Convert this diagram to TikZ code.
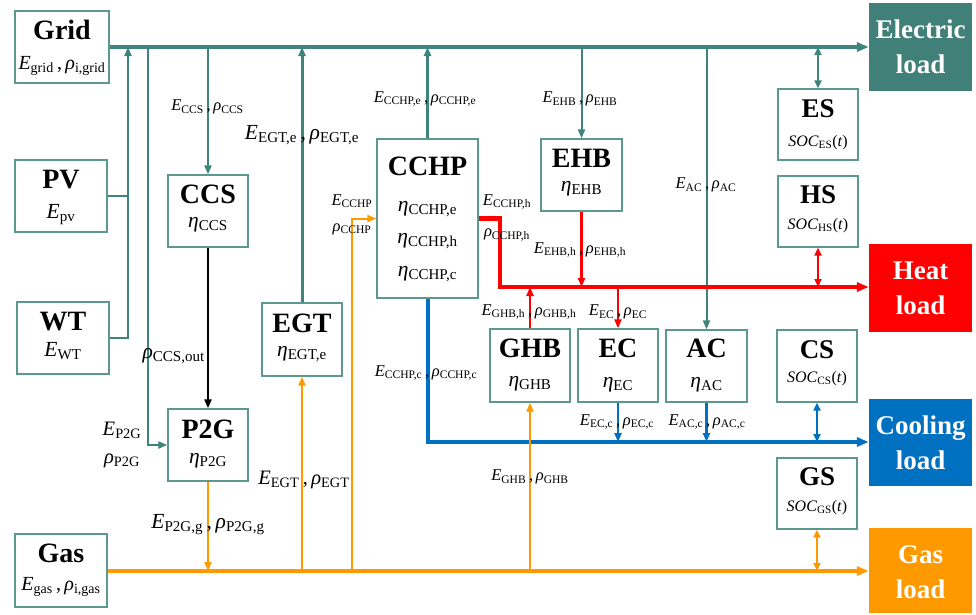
\documentclass[tikz,border=0pt]{standalone}
\usepackage{fontspec}
\setmainfont{Liberation Serif}
\usetikzlibrary{arrows.meta}
\definecolor{tl}{RGB}{62,132,124}
\definecolor{tlb}{RGB}{92,152,144}
\definecolor{tlf}{RGB}{64,128,120}
\definecolor{rd}{RGB}{255,0,0}
\definecolor{bl}{RGB}{0,112,192}
\definecolor{og}{RGB}{255,153,0}
\newcommand\Ev[1]{\textit{E}\textsubscript{#1}}
\newcommand\Rv[1]{\textit{ρ}\textsubscript{#1}}
\newcommand\Hv[1]{\textit{η}\textsubscript{#1}}
\newcommand\ER[2]{\Ev{#1}\,,\,\Rv{#2}}
\newcommand\SOC[1]{\textit{SOC}\textsubscript{#1}(\textit{t})}
\tikzset{
  bx/.style={draw=tlb, line width=1.3pt, inner sep=0pt},
  ttl/.style={font=\fontsize{28}{30}\selectfont\bfseries, inner sep=0pt, anchor=base},
  sttl/.style={font=\fontsize{27}{29}\selectfont\bfseries, inner sep=0pt, anchor=base},
  prm/.style={font=\fontsize{21.5}{23}\selectfont, inner sep=0pt, anchor=base},
  prms/.style={font=\fontsize{20}{22}\selectfont, inner sep=0pt, anchor=base},
  socf/.style={font=\fontsize{16}{18}\selectfont, inner sep=0pt, anchor=base},
  lab/.style={font=\fontsize{16.5}{18}\selectfont, inner sep=0pt},
  labm/.style={font=\fontsize{20.5}{22}\selectfont, inner sep=0pt},
  labb/.style={font=\fontsize{21.5}{23}\selectfont, inner sep=0pt},
  ld/.style={inner sep=0pt, draw=none},
  ldt/.style={font=\fontsize{27}{29}\selectfont\bfseries, text=white, inner sep=0pt, anchor=base},
  tip/.style={-{Triangle[length=9pt,width=7pt]}},
  bigtip/.style={-{Triangle[length=12pt,width=9pt]}},
  dbl/.style={{Triangle[length=8pt,width=7pt]}-{Triangle[length=8pt,width=7pt]}},
  eb/.style={draw=tl, line width=3.3pt},
  e2/.style={draw=tl, line width=2.6pt},
  e1/.style={draw=tl, line width=2pt},
  hb/.style={draw=rd, line width=4.3pt},
  h1/.style={draw=rd, line width=2.8pt},
  cb/.style={draw=bl, line width=4pt},
  c1/.style={draw=bl, line width=2.5pt},
  gb/.style={draw=og, line width=3.5pt},
  g1/.style={draw=og, line width=2pt},
  k1/.style={draw=black, line width=2.5pt},
}
% name x1 y1 x2 y2 title toff param poff
\newcommand\unit[9]{%
  \node[bx, minimum width={#4-#2}, minimum height={#5-#3}] (#1) at ({(#2+#4)/2},{(#3+#5)/2}) {};
  \node[ttl] (#1t) at ({(#2+#4)/2},{#3+#7}) {#6};
  \node[prm] (#1p) at ({(#2+#4)/2},{#3+#9}) {#8};}
\newcommand\sunit[9]{%
  \node[bx, minimum width={#4-#2}, minimum height={#5-#3}] (#1) at ({(#2+#4)/2},{(#3+#5)/2}) {};
  \node[sttl] (#1t) at ({(#2+#4)/2},{#3+#7}) {#6};
  \node[socf] (#1p) at ({(#2+#4)/2},{#3+#9}) {#8};}
% name x1 y1 x2 y2 colour line1 line2
\newcommand\lunit[8]{%
  \node[ld, fill=#6, minimum width={#4-#2}, minimum height={#5-#3}] (#1) at ({(#2+#4)/2},{(#3+#5)/2}) {};
  \node[ldt] (#1a) at ({(#2+#4)/2},{#3+35}) {#7};
  \node[ldt] (#1b) at ({(#2+#4)/2},{#3+70}) {#8};}
\begin{document}
\begin{tikzpicture}[x=1pt,y=-1pt]
\useasboundingbox (0,0) rectangle (976,614);
% sources and converters
\node[bx, minimum width=94, minimum height=72] (grid) at (62,47) {};
\node[ttl] (gridt) at (62,39) {Grid};
\node[prms] (gridp) at (62,69) {\ER{grid}{i,grid}};
\unit{pv}{15}{160}{107}{232}{PV}{28}{\Ev{pv}}{58}
\unit{wt}{17}{302}{109}{374}{WT}{28}{\Ev{WT}}{54}
\node[bx, minimum width=92, minimum height=73] (gas) at (61,570.5) {};
\node[ttl] (gast) at (61,562) {Gas};
\node[prms] (gasp) at (61,590) {\ER{gas}{i,gas}};
\unit{ccs}{168}{175}{248}{247}{CCS}{28}{\Hv{CCS}}{52}
\unit{p2g}{168}{409}{248}{481}{P2G}{29}{\Hv{P2G}}{54}
\unit{egt}{262}{303}{342}{376}{EGT}{29}{\Hv{EGT,e}}{53}
\unit{ehb}{541}{139}{622}{211}{EHB}{28}{\Hv{EHB}}{52}
\unit{ghb}{490}{329}{570}{402}{GHB}{28}{\Hv{GHB}}{57}
\unit{ec}{578}{329}{658}{402}{EC}{28}{\Hv{EC}}{58}
\unit{ac}{666}{330}{747}{402}{AC}{27}{\Hv{AC}}{57}
% CCHP
\node[bx, minimum width=101, minimum height=159] (cchp) at (427.5,218.5) {};
\node[ttl] (cchpt) at (427.5,175) {CCHP};
\node[prm] (cchp1) at (427.5,211) {\Hv{CCHP,e}};
\node[prm] (cchp2) at (427.5,243) {\Hv{CCHP,h}};
\node[prm] (cchp3) at (427.5,276) {\Hv{CCHP,c}};
% storages
\sunit{es}{778}{89}{858}{160}{ES}{28}{\SOC{ES}}{57}
\sunit{hs}{778}{176}{858}{247}{HS}{27}{\SOC{HS}}{53}
\sunit{cs}{777}{330}{857}{402}{CS}{28}{\SOC{CS}}{52}
\sunit{gs}{777}{458}{857}{529}{GS}{27}{\SOC{GS}}{53}
% loads
\lunit{eload}{869}{3}{972}{91}{tlf}{Electric}{load}
\lunit{hload}{869}{244}{972}{332}{rd}{Heat}{load}
\lunit{cload}{869}{399}{972}{486}{bl}{Cooling}{load}
\lunit{gload}{869}{528}{972}{613}{og}{Gas}{load}
% bus coordinates
\coordinate (ebus) at (0,47);
\coordinate (hbus) at (0,287);
\coordinate (cbus) at (0,442);
\coordinate (gbus) at (0,571);
\coordinate (jre) at (128,47);
\coordinate (jp2g) at (148,47);
\coordinate (hcorner) at (500,287);
\coordinate (gcchp) at (352,571);
% electric
\draw[eb, bigtip] (grid.east |- ebus) -- (eload.west |- ebus);
\draw[e2] (pv.east) -- (pv.east -| jre);
\draw[e2, tip] (wt.east) -| (jre);
\draw[e2, tip] (jp2g) |- (p2g.west);
\draw[e1, tip] (ccs.north |- ebus) -- (ccs.north);
\draw[eb, line width=3pt, tip] (egt.north) -- (egt.north |- ebus);
\draw[eb, line width=3pt, tip] (cchp.north) -- (cchp.north |- ebus);
\draw[e1, tip] (ehb.north |- ebus) -- (ehb.north);
\draw[e1, tip] (ac.north |- ebus) -- (ac.north);
\draw[e1, dbl] (es.north |- ebus) -- (es.north);
\draw[k1, tip] (ccs.south) -- (p2g.north);
% heat
\draw[hb, bigtip] (cchp.east) -| (hcorner) -- (hload.west |- hbus);
\draw[h1, tip] (ehb.south) -- (ehb.south |- hbus);
\draw[h1, tip] (ghb.north) -- (ghb.north |- hbus);
\draw[h1, tip] (ec.north |- hbus) -- (ec.north);
\draw[h1, dbl] (hs.south) -- (hs.south |- hbus);
% cooling
\draw[cb, bigtip] (cchp.south) |- (cload.west |- cbus);
\draw[c1, tip] (ec.south) -- (ec.south |- cbus);
\draw[c1, tip] (ac.south) -- (ac.south |- cbus);
\draw[c1, dbl] (cs.south) -- (cs.south |- cbus);
% gas
\draw[gb, bigtip] (gas.east |- gbus) -- (gload.west |- gbus);
\draw[g1, tip] (p2g.south) -- (p2g.south |- gbus);
\draw[g1, tip] (egt.south |- gbus) -- (egt.south);
\draw[g1, tip] (gcchp) |- (cchp.west);
\draw[g1, tip] (ghb.south |- gbus) -- (ghb.south);
\draw[g1, dbl] (gs.south) -- (gs.south |- gbus);
% labels
\node[lab] (lccs) at (207.5,107) {\ER{CCS}{CCS}};
\node[labb] (legte) at (302,135) {\ER{EGT,e}{EGT,e}};
\node[lab] (lcchpe) at (425,99) {\ER{CCHP,e}{CCHP,e}};
\node[lab] (lehb) at (580,99) {\ER{EHB}{EHB}};
\node[lab] (lac) at (706,185) {\ER{AC}{AC}};
\node[lab] (lcchpi1) at (352,201) {\Ev{CCHP}};
\node[lab] (lcchpi2) at (352,229) {\Rv{CCHP}};
\node[lab] (lcchph1) at (507,202) {\Ev{CCHP,h}};
\node[lab] (lcchph2) at (507,235) {\Rv{CCHP,h}};
\node[lab] (lehbh) at (580,250) {\ER{EHB,h}{EHB,h}};
\node[lab] (lghbh) at (529,312) {\ER{GHB,h}{GHB,h}};
\node[lab] (lec) at (618,312) {\ER{EC}{EC}};
\node[lab] (lcchpc) at (426,373) {\ER{CCHP,c}{CCHP,c}};
\node[lab] (lecc) at (617,422) {\ER{EC,c}{EC,c}};
\node[lab] (lacc) at (707,422) {\ER{AC,c}{AC,c}};
\node[lab] (lghb) at (530,477) {\ER{GHB}{GHB}};
\node[labm] (legt) at (304,480) {\ER{EGT}{EGT}};
\node[labb] (lp2gg) at (208,525) {\ER{P2G,g}{P2G,g}};
\node[labb, anchor=east] (lccso) at (205,356) {\Rv{CCS,out}};
\node[labm] (lp2g1) at (122,430) {\Ev{P2G}};
\node[labm] (lp2g2) at (122,461) {\Rv{P2G}};
\end{tikzpicture}
\end{document}
